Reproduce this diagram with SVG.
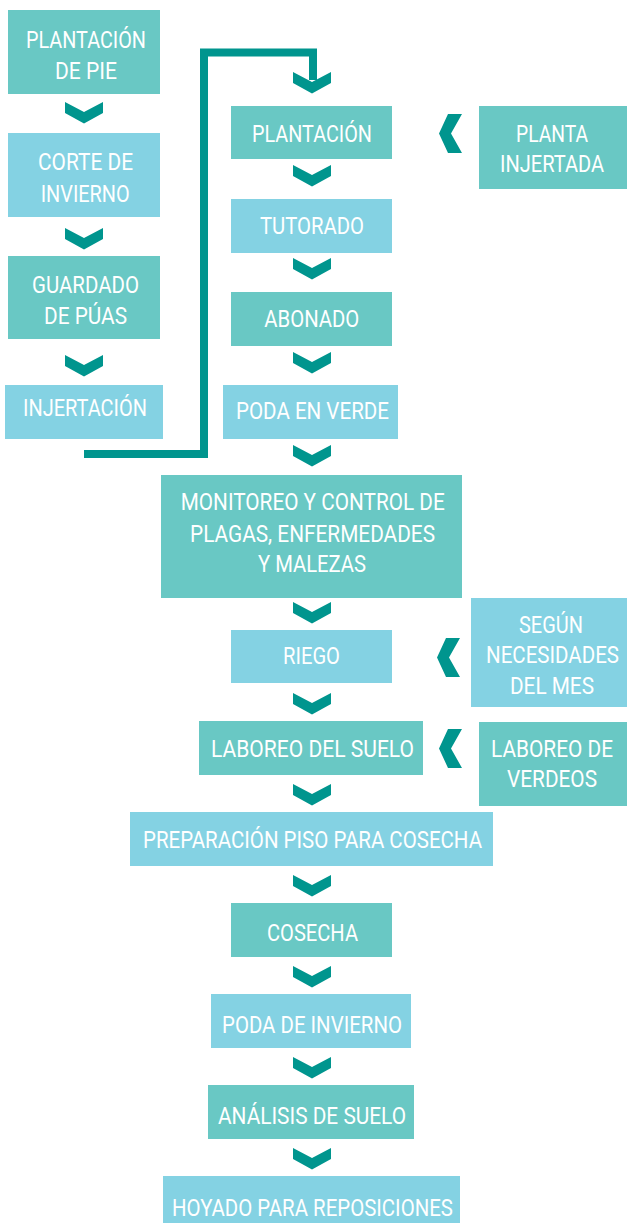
<svg xmlns="http://www.w3.org/2000/svg" xmlns:xlink="http://www.w3.org/1999/xlink" width="627" height="1223" viewBox="0 0 627 1223">
<style>
.t{fill:#69C8C4}
.b{fill:#84D2E3}
.ch{fill:#00958E}
text{font-family:Roboto,"Liberation Sans","DejaVu Sans",sans-serif;font-size:23.5px;fill:#FFFFFF}
.conn{fill:none;stroke:#00958E;stroke-width:8;stroke-linejoin:miter}
</style>
<defs>
<path id="down" d="M0,0 L19,10 L38,0 L38,11 L19,21.5 L0,11 Z"/>
<path id="left" d="M9,0 L23,0 L12,19.5 L23,39 L9,39 L0,19.5 Z"/>
</defs>
<rect width="627" height="1223" fill="#FFFFFF"/>

<g id="connectors">
<polyline class="conn" points="84,454 204,454 204,52.5 313,52.5 313,80"/>
<use href="#down" class="ch" x="65" y="102"/>
<use href="#down" class="ch" x="65" y="228"/>
<use href="#down" class="ch" x="65" y="355"/>
<use href="#down" class="ch" x="293" y="72"/>
<use href="#down" class="ch" x="293" y="165"/>
<use href="#down" class="ch" x="293" y="258"/>
<use href="#down" class="ch" x="293" y="352"/>
<use href="#down" class="ch" x="293" y="445"/>
<use href="#down" class="ch" x="293" y="602"/>
<use href="#down" class="ch" x="293" y="693"/>
<use href="#down" class="ch" x="293" y="784"/>
<use href="#down" class="ch" x="293" y="875"/>
<use href="#down" class="ch" x="293" y="966"/>
<use href="#down" class="ch" x="293" y="1057"/>
<use href="#down" class="ch" x="293" y="1148"/>
<use href="#left" class="ch" x="439" y="114"/>
<use href="#left" class="ch" x="437" y="638"/>
<use href="#left" class="ch" x="439" y="729"/>
</g>

<g id="plantacion-de-pie">
<rect class="t" x="8" y="10" width="152" height="84"/>
<text x="26" y="48.3" textLength="120" lengthAdjust="spacingAndGlyphs">PLANTACIÓN</text>
<text x="55" y="79" textLength="62" lengthAdjust="spacingAndGlyphs">DE PIE</text>
</g>
<g id="corte-de-invierno">
<rect class="b" x="8" y="133" width="152" height="84"/>
<text x="38" y="170" textLength="95" lengthAdjust="spacingAndGlyphs">CORTE DE</text>
<text x="40.7" y="201.7" textLength="89" lengthAdjust="spacingAndGlyphs">INVIERNO</text>
</g>
<g id="guardado-de-puas">
<rect class="t" x="8" y="256" width="152" height="83"/>
<text x="32" y="293" textLength="107" lengthAdjust="spacingAndGlyphs">GUARDADO</text>
<text x="44" y="324" textLength="83" lengthAdjust="spacingAndGlyphs">DE PÚAS</text>
</g>
<g id="injertacion">
<rect class="b" x="5" y="385" width="158" height="54"/>
<text x="23" y="416" textLength="124" lengthAdjust="spacingAndGlyphs">INJERTACIÓN</text>
</g>

<g id="plantacion">
<rect class="t" x="231" y="106" width="161" height="53"/>
<text x="252" y="141.7" textLength="120" lengthAdjust="spacingAndGlyphs">PLANTACIÓN</text>
</g>
<g id="planta-injertada">
<rect class="t" x="479" y="106" width="148" height="83"/>
<text x="516" y="142" textLength="72" lengthAdjust="spacingAndGlyphs">PLANTA</text>
<text x="500" y="172" textLength="104" lengthAdjust="spacingAndGlyphs">INJERTADA</text>
</g>
<g id="tutorado">
<rect class="b" x="231" y="199" width="161" height="54"/>
<text x="260" y="234" textLength="104" lengthAdjust="spacingAndGlyphs">TUTORADO</text>
</g>
<g id="abonado">
<rect class="t" x="231" y="292" width="161" height="54"/>
<text x="264.3" y="326.7" textLength="95" lengthAdjust="spacingAndGlyphs">ABONADO</text>
</g>
<g id="poda-en-verde">
<rect class="b" x="223" y="385" width="175" height="54"/>
<text x="236" y="418.5" textLength="153" lengthAdjust="spacingAndGlyphs">PODA EN VERDE</text>
</g>
<g id="monitoreo">
<rect class="t" x="161" y="475" width="301" height="123"/>
<text x="180.7" y="510" textLength="264" lengthAdjust="spacingAndGlyphs">MONITOREO Y CONTROL DE</text>
<text x="190" y="541.7" textLength="245" lengthAdjust="spacingAndGlyphs">PLAGAS, ENFERMEDADES</text>
<text x="258" y="571.5" textLength="108" lengthAdjust="spacingAndGlyphs">Y MALEZAS</text>
</g>
<g id="riego">
<rect class="b" x="231" y="630" width="161" height="53"/>
<text x="283" y="663.5" textLength="57" lengthAdjust="spacingAndGlyphs">RIEGO</text>
</g>
<g id="segun-necesidades">
<rect class="b" x="471" y="598" width="156" height="109"/>
<text x="519" y="632.7" textLength="64" lengthAdjust="spacingAndGlyphs">SEGÚN</text>
<text x="486" y="663" textLength="133" lengthAdjust="spacingAndGlyphs">NECESIDADES</text>
<text x="510" y="694" textLength="84" lengthAdjust="spacingAndGlyphs">DEL MES</text>
</g>
<g id="laboreo-del-suelo">
<rect class="t" x="199" y="721" width="224" height="54"/>
<text x="211" y="756.7" textLength="203" lengthAdjust="spacingAndGlyphs">LABOREO DEL SUELO</text>
</g>
<g id="laboreo-de-verdeos">
<rect class="t" x="479" y="722" width="148" height="84"/>
<text x="491" y="756.7" textLength="122" lengthAdjust="spacingAndGlyphs">LABOREO DE</text>
<text x="507" y="786.7" textLength="90" lengthAdjust="spacingAndGlyphs">VERDEOS</text>
</g>
<g id="preparacion-piso">
<rect class="b" x="130" y="812" width="363" height="54"/>
<text x="143" y="848" textLength="339" lengthAdjust="spacingAndGlyphs">PREPARACIÓN PISO PARA COSECHA</text>
</g>
<g id="cosecha">
<rect class="t" x="231" y="903" width="161" height="54"/>
<text x="267" y="941" textLength="91" lengthAdjust="spacingAndGlyphs">COSECHA</text>
</g>
<g id="poda-de-invierno">
<rect class="b" x="211" y="994" width="200" height="54"/>
<text x="222" y="1032.7" textLength="180" lengthAdjust="spacingAndGlyphs">PODA DE INVIERNO</text>
</g>
<g id="analisis-de-suelo">
<rect class="t" x="208" y="1085" width="206" height="54"/>
<text x="218" y="1124" textLength="188" lengthAdjust="spacingAndGlyphs">ANÁLISIS DE SUELO</text>
</g>
<g id="hoyado">
<rect class="b" x="163" y="1176" width="297" height="47"/>
<text x="172" y="1216" textLength="281" lengthAdjust="spacingAndGlyphs">HOYADO PARA REPOSICIONES</text>
</g>
</svg>
